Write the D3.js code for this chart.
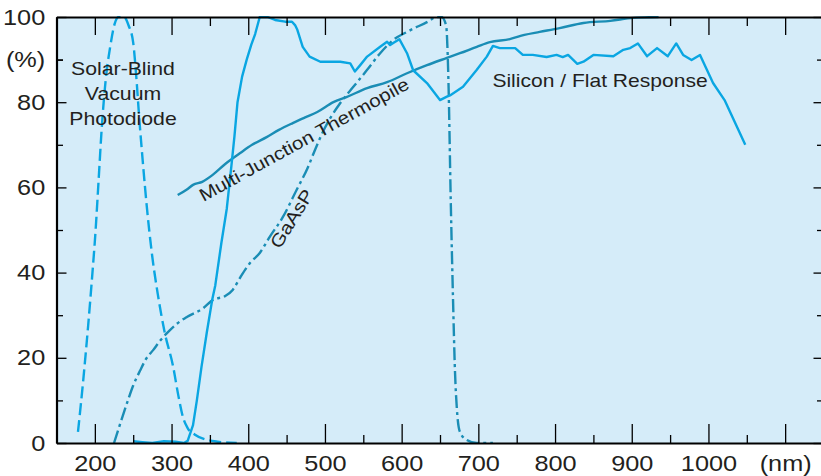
<!DOCTYPE html>
<html><head><meta charset="utf-8">
<script src="https://cdn.jsdelivr.net/npm/d3@7"></script>
<style>
body{margin:0;background:#fff}
svg{display:block}
text{font-family:"Liberation Sans",Arial,Helvetica,sans-serif;fill:#231f20}
</style>
</head><body>
<svg id="c" width="821" height="476"></svg>
<script>
// ---- data (wavelength nm, relative response %) ----
const xMajorTicks = [200,300,400,500,600,700,800,900,1000,1100];
const xTickLabels = ["200","300","400","500","600","700","800","900","1000","(nm)"];
const xMinorTicks = [150,250,350,450,550,650,750,850,950,1050];
const yMajorTicks = [0,20,40,60,80,100];
const yMinorTicks = [10,30,50,70,90];
const yTickLabels = {0:"0",20:"20",40:"40",60:"60",80:"80",90:"(%)",100:"100"};

const solarBlind = [[178,2.6],[185,15],[191,27],[196,38],[201,50],[205,62],[209,74],[214,85],[220,93],[226,98.5],[231,100],[238,100],[244,98],[250,94],[254,86],[258,76],[263,65],[268,55],[274,45],[282,35],[291,26],[302,18],[309,11],[315,6],[321,3.5],[330,2],[345,0.8],[360,0.3],[385,0]];

const silicon = [[250,0.4],[262,0.2],[275,0],[290,0.4],[305,0.3],[316,0],[321,0.5],[328,4.2],[333,10],[339,17.8],[346,26],[353,33.6],[357,37],[365,47],[372,55],[378,65],[382,72],[386,80],[392,86],[398,90],[404,93.5],[409,96],[415,100],[425,100],[435,99.3],[448,98.9],[457,98.9],[461,98.1],[464,97],[471,93],[480,90.7],[494,89.5],[520,89.5],[533,89.1],[539,87.2],[546,88.7],[555,90.7],[572,93],[581,94.2],[585,93.4],[589,93.9],[597,94.8],[607,91.5],[615,87.5],[633,84.5],[650,80.5],[659,81.3],[663,81.6],[680,83.6],[698,87.6],[711,90.7],[719,93.2],[728,92.7],[748,92.7],[758,91.1],[771,91.1],[789,90.6],[802,91.1],[810,90.6],[817,91.1],[829,89],[837,89.5],[850,91.1],[876,90.8],[889,92.3],[898,92.7],[908,93.8],[920,90.8],[933,92.7],[947,90.8],[958,93.8],[967,91.1],[978,89.9],[989,91.1],[1006,84.5],[1021,80.5],[1048,70]];

const thermopile = [[308,58.2],[320,59.5],[328,60.6],[340,61.3],[354,63],[370,65.5],[389,68],[405,70],[424,71.8],[440,73.5],[458,75.1],[475,76.5],[490,77.7],[511,80],[528,81.2],[555,83.3],[581,84.7],[607,86.8],[633,88.7],[659,90.4],[676,91.5],[698,93],[715,94.1],[741,94.8],[760,95.8],[780,96.5],[806,97.4],[837,98.6],[872,99.1],[902,99.8],[935,100]];

const gaasp = [[225,0],[233,4.5],[242,9.4],[250,13.5],[259,17],[267,19.8],[276,21.8],[285,24],[294,25.8],[307,28],[320,29.6],[341,31.6],[354,33.6],[370,34.5],[380,36],[390,39],[402,42.2],[415,44.6],[428,48.4],[445,53],[463,59.4],[478,64.8],[487,68.8],[500,74],[520,79.8],[537,83.6],[555,87.6],[572,91.5],[589,94.6],[607,96.5],[633,98.8],[646,100],[652,100],[658,98],[661,85],[664,57],[667,33.6],[669.5,17],[672,8],[676,2.6],[685,0.7],[698,0],[719,0]];

// ---- drawing ----
const svg = d3.select("#c");
const x = d3.scaleLinear().domain([150,1150]).range([56.5,823.5]);
const y = d3.scaleLinear().domain([0,100]).range([443,17]);
const L=56.5,R=823.5,T=17,B=443;

svg.append("rect").attr("x",L).attr("y",T).attr("width",R-L).attr("height",B-T).attr("fill","#d5ecf9");

svg.append("clipPath").attr("id","clip").append("rect").attr("x",L).attr("y",T-1).attr("width",R-L).attr("height",B-T+1);

const bright="#0aa6e2", teal="#1a8db5";
const lineS = d3.line().x(d=>x(d[0])).y(d=>y(d[1])).curve(d3.curveMonotoneX);
const lineL = d3.line().x(d=>x(d[0])).y(d=>y(d[1]));
const g = svg.append("g").attr("clip-path","url(#clip)");
const base = p => p.attr("fill","none").attr("stroke-width",2.4).attr("stroke-linejoin","round").attr("stroke-linecap","butt");

g.append("path").datum(thermopile).attr("d",lineS).attr("stroke",teal).call(base);
g.append("path").datum(gaasp).attr("d",lineS).attr("stroke",teal).attr("stroke-dasharray","13,4,3,4").call(base);
g.append("path").datum(silicon).attr("d",lineL).attr("stroke",bright).call(base);
g.append("path").datum(solarBlind).attr("d",lineS).attr("stroke",bright).attr("stroke-dasharray","12,5").call(base);

// axes
function styleAxis(sel){
  sel.select(".domain").attr("stroke","#000").attr("stroke-width",2.2);
  sel.selectAll(".tick line").attr("stroke","#000").attr("stroke-width",1.3);
}
const fmtX = d=>xTickLabels[xMajorTicks.indexOf(d)];
const ax = svg.append("g").attr("transform",`translate(0,${B})`)
  .call(d3.axisBottom(x).tickValues(xMajorTicks).tickSize(-19).tickSizeOuter(0).tickPadding(12).tickFormat(fmtX));
ax.call(styleAxis);
ax.selectAll(".tick text").attr("font-size",22).attr("fill","#000").attr("transform","scale(1.15,1)");
svg.append("g").attr("transform",`translate(0,${B})`)
  .call(d3.axisBottom(x).tickValues(xMinorTicks).tickSize(-8).tickSizeOuter(0).tickFormat(""))
  .call(styleAxis).select(".domain").remove();

svg.append("g").attr("transform",`translate(0,${T})`)
  .call(d3.axisTop(x).tickValues(xMajorTicks).tickSize(-18).tickSizeOuter(0).tickFormat(""))
  .call(styleAxis);
svg.append("g").attr("transform",`translate(0,${T})`)
  .call(d3.axisTop(x).tickValues(xMinorTicks).tickSize(-9).tickSizeOuter(0).tickFormat(""))
  .call(styleAxis).select(".domain").remove();

const ay = svg.append("g").attr("transform",`translate(${L},0)`)
  .call(d3.axisLeft(y).tickValues(yMajorTicks.concat([90])).tickSize(-10).tickSizeOuter(0).tickPadding(9.8).tickFormat(d=>yTickLabels[d]));
ay.call(styleAxis);
ay.selectAll(".tick text").attr("font-size",22).attr("fill","#000").attr("transform","scale(1.15,1)");
svg.append("g").attr("transform",`translate(${L},0)`)
  .call(d3.axisLeft(y).tickValues(yMinorTicks).tickSize(-6.5).tickSizeOuter(0).tickFormat(""))
  .call(styleAxis).select(".domain").remove();

svg.append("g").attr("transform",`translate(${R},0)`)
  .call(d3.axisRight(y).tickValues(yMajorTicks).tickSize(-10).tickSizeOuter(0).tickFormat(""))
  .call(styleAxis);
svg.append("g").attr("transform",`translate(${R},0)`)
  .call(d3.axisRight(y).tickValues(yMinorTicks).tickSize(-6.5).tickSizeOuter(0).tickFormat(""))
  .call(styleAxis).select(".domain").remove();
// the 90 tick on left carries "(%)" but is a minor-length tick
ay.selectAll(".tick").filter(d=>d===90).select("line").attr("x2",6.5);

// annotations
const ann = svg.append("g").attr("font-size",18);
const sb = ann.append("text").attr("text-anchor","middle").attr("transform","translate(123,0) scale(1.18,1)");
[["Solar-Blind",75],["Vacuum",100],["Photodiode",125]].forEach(([t,yy])=>sb.append("tspan").attr("x",0).attr("y",yy).text(t));
ann.append("text").attr("text-anchor","middle").attr("transform","translate(600,87) scale(1.17,1)").text("Silicon / Flat Response");
ann.append("text").attr("text-anchor","middle").attr("transform","translate(307,145) rotate(-28.8) scale(1.15,1)").text("Multi-Junction Thermopile");
ann.append("text").attr("text-anchor","middle").attr("transform","translate(297,222) rotate(-58) scale(1.15,1)").text("GaAsP");
</script>
</body></html>
